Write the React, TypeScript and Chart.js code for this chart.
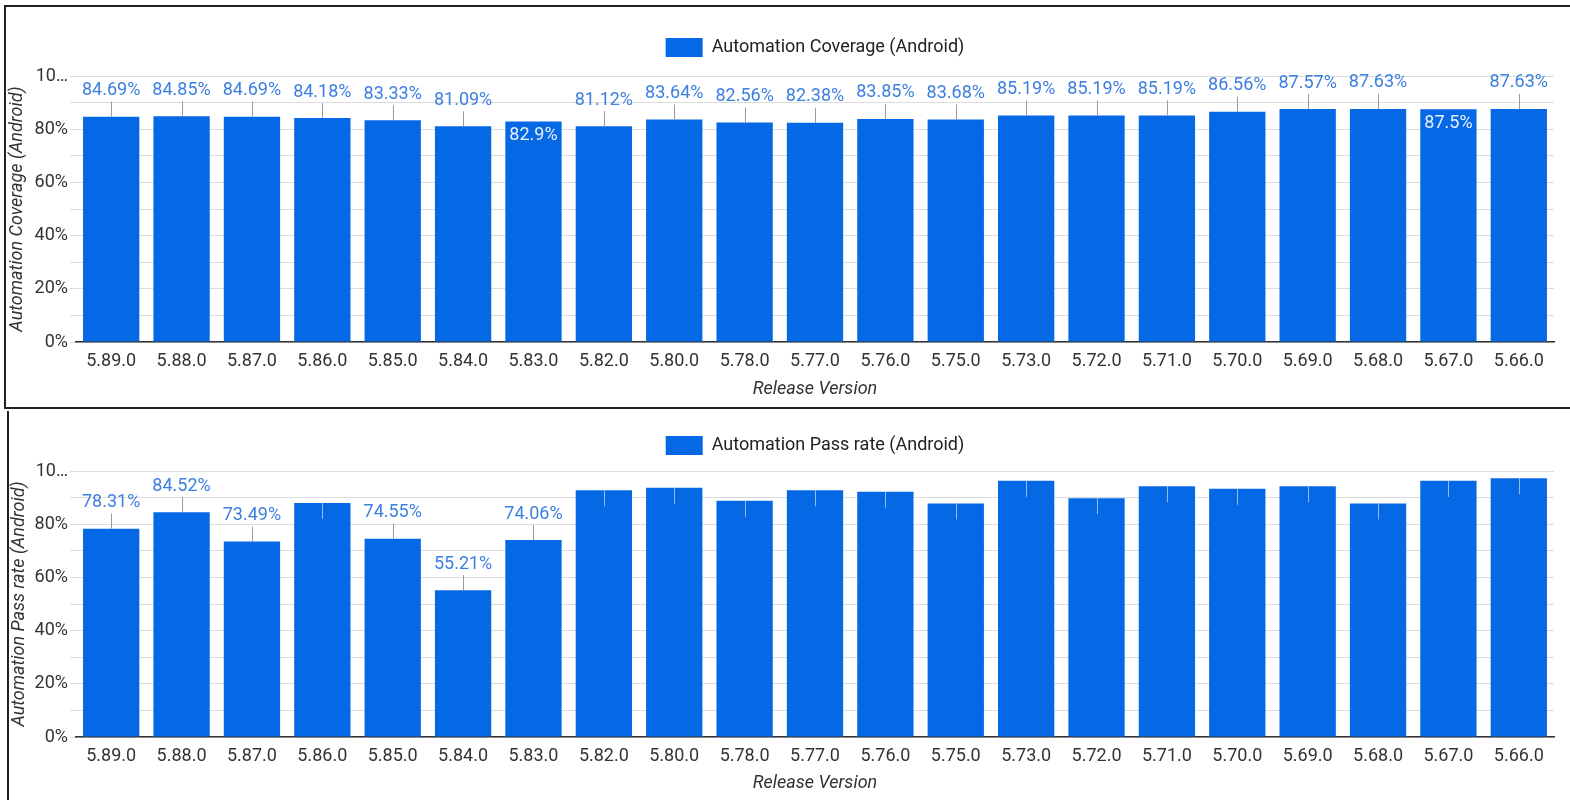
import React, { useEffect, useRef } from 'react';
import { Chart, registerables } from 'chart.js';

Chart.register(...registerables);
Chart.defaults.font.family = 'Roboto';

const categories = [
  '5.89.0', '5.88.0', '5.87.0', '5.86.0', '5.85.0', '5.84.0', '5.83.0',
  '5.82.0', '5.80.0', '5.78.0', '5.77.0', '5.76.0', '5.75.0', '5.73.0',
  '5.72.0', '5.71.0', '5.70.0', '5.69.0', '5.68.0', '5.67.0', '5.66.0',
];

const coverageValues = [
  84.69, 84.85, 84.69, 84.18, 83.33, 81.09, 82.9,
  81.12, 83.64, 82.56, 82.38, 83.85, 83.68, 85.19,
  85.19, 85.19, 86.56, 87.57, 87.63, 87.5, 87.63,
];

const passRateValues = [
  78.31, 84.52, 73.49, 88.0, 74.55, 55.21, 74.06,
  92.8, 93.7, 88.8, 92.8, 92.2, 87.8, 96.3,
  89.8, 94.3, 93.3, 94.3, 87.8, 96.3, 97.3,
];

// indices whose value label is drawn inside the bar (white)
const coverageInsideLabels = [6, 19];
// indices whose value label is shown above the bar
const passRateShownLabels = [0, 1, 2, 4, 5, 6];

const yTickValues = [0, 20, 40, 60, 80, 100];
const yTickLabels = ['0%', '20%', '40%', '60%', '80%', '10…'];

const BAR_COLOR = '#0568e4';
const LABEL_COLOR = '#3c7fe0';

const barLabelPlugin = {
  id: 'barLabels',
  afterDatasetsDraw(chart: any, _args: any, opts: any) {
    const { ctx } = chart;
    const meta = chart.getDatasetMeta(0);
    const values = chart.data.datasets[0].data as number[];
    ctx.save();
    ctx.font = '18px Roboto';
    ctx.textAlign = 'center';
    ctx.textBaseline = 'middle';
    meta.data.forEach((bar: any, i: number) => {
      const { x, y } = bar.getProps(['x', 'y'], true);
      const mode = opts.modes[i];
      const text = values[i] + '%';
      if (mode === 'above') {
        ctx.strokeStyle = '#9a9a9a';
        ctx.lineWidth = 1;
        ctx.beginPath();
        ctx.moveTo(Math.round(x) + 0.5, y - 15);
        ctx.lineTo(Math.round(x) + 0.5, y);
        ctx.stroke();
        ctx.fillStyle = LABEL_COLOR;
        ctx.fillText(text, x, y - 26);
      } else if (mode === 'inside') {
        ctx.fillStyle = '#e8f0fd';
        ctx.fillText(text, x, y + 14);
      } else {
        ctx.strokeStyle = 'rgba(170,195,235,0.9)';
        ctx.lineWidth = 1;
        ctx.beginPath();
        ctx.moveTo(Math.round(x) + 0.5, y);
        ctx.lineTo(Math.round(x) + 0.5, y + 16);
        ctx.stroke();
      }
    });
    ctx.restore();
  },
};

const legendSpacerPlugin = {
  id: 'legendSpacer',
  beforeLayout(chart: any, _args: any, opts: any) {
    const lg = chart.legend;
    if (lg && !lg.__patched) {
      const orig = lg.fit.bind(lg);
      lg.fit = function () {
        orig();
        this.height += opts.extra || 0;
      };
      lg.__patched = true;
    }
  },
};

interface ChartProps {
  left: number;
  top: number;
  width: number;
  height: number;
  values: number[];
  legendLabel: string;
  yTitle: string;
  modes: string[];
  padTop: number;
  legendExtra: number;
  yWidth: number;
  xHeight: number;
  padRight: number;
  xTitlePad: number;
}

function BarChart(p: ChartProps) {
  const ref = useRef<HTMLCanvasElement | null>(null);
  useEffect(() => {
    if (!ref.current) return;
    const chart = new Chart(ref.current, {
      type: 'bar',
      data: {
        labels: categories,
        datasets: [
          {
            label: p.legendLabel,
            data: p.values,
            backgroundColor: BAR_COLOR,
            borderWidth: 0,
            barPercentage: 0.8,
            categoryPercentage: 1,
          },
        ],
      },
      plugins: [barLabelPlugin, legendSpacerPlugin],
      options: {
        responsive: false,
        animation: false,
        devicePixelRatio: 1,
        layout: { padding: { top: p.padTop, left: 0, right: p.padRight, bottom: 0 } },
        plugins: {
          legend: {
            display: true,
            position: 'top',
            fullSize: false,
            labels: {
              boxWidth: 37,
              boxHeight: 19,
              color: '#222',
              font: { size: 18 },
              padding: 10,
            },
          },
          tooltip: { enabled: false },
          barLabels: { modes: p.modes },
          legendSpacer: { extra: p.legendExtra },
        } as any,
        scales: {
          x: {
            grid: { display: false, drawTicks: false },
            border: { display: true, color: '#333', width: 1.5 },
            ticks: {
              color: '#333',
              font: { size: 18 },
              padding: 9,
              maxRotation: 0,
              autoSkip: false,
            },
            title: {
              display: true,
              text: 'Release Version',
              color: '#333',
              font: { size: 18, style: 'italic' },
              padding: { top: 0, bottom: p.xTitlePad },
            },
            afterFit: (s: any) => {
              s.height = p.xHeight;
            },
          },
          y: {
            min: 0,
            max: 100,
            ticks: {
              stepSize: 10,
              autoSkip: false,
              color: '#333',
              font: { size: 18 },
              padding: 2,
              callback: (v: any) => {
                const idx = yTickValues.indexOf(Number(v));
                return idx >= 0 ? yTickLabels[idx] : '';
              },
            },
            grid: { color: '#dcdcdc', tickLength: 6, drawTicks: true },
            border: { display: false },
            title: {
              display: true,
              text: p.yTitle,
              color: '#333',
              font: { size: 18, style: 'italic' },
              padding: { top: 0, bottom: 0 },
            },
            afterFit: (s: any) => {
              s.width = p.yWidth;
            },
          },
        },
      },
    } as any);
    return () => chart.destroy();
  }, []);
  return (
    <canvas
      ref={ref}
      width={p.width}
      height={p.height}
      style={{ position: 'absolute', left: p.left, top: p.top, width: p.width, height: p.height }}
    />
  );
}

const coverageModes = categories.map((_, i) => (coverageInsideLabels.includes(i) ? 'inside' : 'above'));
const passModes = categories.map((_, i) => (passRateShownLabels.includes(i) ? 'above' : 'line'));

export default function App() {
  return (
    <div
      style={{
        position: 'absolute',
        left: 0,
        top: 0,
        width: 1570,
        height: 800,
        overflow: 'hidden',
        background: '#fff',
      }}
    >
      <div
        style={{
          position: 'absolute',
          left: 4,
          top: 5,
          width: 1580,
          height: 400,
          borderTop: '2px solid #222',
          borderLeft: '2px solid #222',
          borderBottom: '2px solid #222',
        }}
      />
      <div style={{ position: 'absolute', left: 7, top: 411, width: 2, height: 389, background: '#222' }} />
      <BarChart
        left={7}
        top={8}
        width={1563}
        height={399}
        values={coverageValues}
        legendLabel="Automation Coverage (Android)"
        yTitle="Automation Coverage (Android)"
        modes={coverageModes}
        padTop={20}
        legendExtra={9}
        yWidth={69}
        xHeight={65}
        padRight={16}
        xTitlePad={7}
      />
      <BarChart
        left={9}
        top={412}
        width={1561}
        height={388}
        values={passRateValues}
        legendLabel="Automation Pass rate (Android)"
        yTitle="Automation Pass rate (Android)"
        modes={passModes}
        padTop={14}
        legendExtra={6}
        yWidth={67}
        xHeight={63}
        padRight={16}
        xTitlePad={6}
      />
    </div>
  );
}
